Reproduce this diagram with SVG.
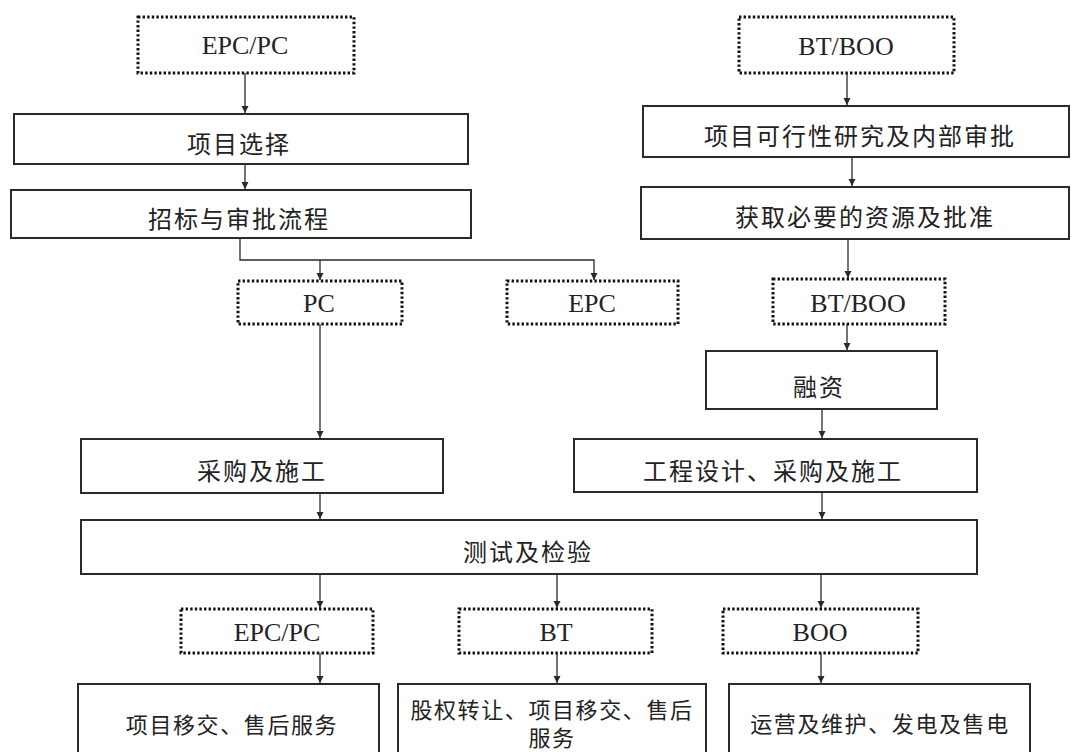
<svg xmlns="http://www.w3.org/2000/svg" width="1072" height="752" viewBox="0 0 1072 752">
<style>
  .box { fill: #ffffff; stroke: #2a2a2a; stroke-width: 2; }
  .dot { fill: #ffffff; stroke: #111111; stroke-width: 3; stroke-dasharray: 2.4 2.2; }
  .cn { font-family: "Noto Sans CJK SC", sans-serif; font-size: 24px; letter-spacing: 2px; fill: #222; text-anchor: middle; dominant-baseline: central; }
  .cs { font-family: "Noto Sans CJK SC", sans-serif; font-size: 22px; letter-spacing: 1.6px; fill: #222; text-anchor: middle; dominant-baseline: central; }
  .en { font-family: "Liberation Serif", serif; font-size: 26px; fill: #222; text-anchor: middle; }
  .ln { fill: none; stroke: #2a2a2a; stroke-width: 1.3; }
</style>
<defs>
  <marker id="arr" markerUnits="userSpaceOnUse" markerWidth="8" markerHeight="8" refX="7" refY="4" orient="auto">
    <path d="M0,0.5 L7,4 L0,7.5 z" fill="#2a2a2a"/>
  </marker>
</defs>
<rect width="1072" height="752" fill="#ffffff"/>

<g id="connectors">
  <path class="ln" d="M245,73 V113" marker-end="url(#arr)"/>
  <path class="ln" d="M245,164 V189" marker-end="url(#arr)"/>
  <path class="ln" d="M240,238 V260 H594 V280" marker-end="url(#arr)"/>
  <path class="ln" d="M320,260 V280" marker-end="url(#arr)"/>
  <path class="ln" d="M847,73 V105" marker-end="url(#arr)"/>
  <path class="ln" d="M852,157 V186" marker-end="url(#arr)"/>
  <path class="ln" d="M848,239 V278" marker-end="url(#arr)"/>
  <path class="ln" d="M847,324 V350" marker-end="url(#arr)"/>
  <path class="ln" d="M822,409 V438" marker-end="url(#arr)"/>
  <path class="ln" d="M320,324 V438" marker-end="url(#arr)"/>
  <path class="ln" d="M320,493 V519" marker-end="url(#arr)"/>
  <path class="ln" d="M822,492 V519" marker-end="url(#arr)"/>
  <path class="ln" d="M320,574 V608" marker-end="url(#arr)"/>
  <path class="ln" d="M557,574 V608" marker-end="url(#arr)"/>
  <path class="ln" d="M821,574 V608" marker-end="url(#arr)"/>
  <path class="ln" d="M320,653 V683" marker-end="url(#arr)"/>
  <path class="ln" d="M557,653 V683" marker-end="url(#arr)"/>
  <path class="ln" d="M821,653 V683" marker-end="url(#arr)"/>
</g>

<g id="epcpc-top">
  <rect class="dot" x="138" y="17" width="216" height="56"/>
  <text class="en" x="245" y="54">EPC/PC</text>
</g>
<g id="xuanze">
  <rect class="box" x="14" y="114" width="454" height="50"/>
  <text class="cn" x="239" y="142">项目选择</text>
</g>
<g id="zhaobiao">
  <rect class="box" x="11" y="190" width="460" height="48"/>
  <text class="cn" x="239" y="217">招标与审批流程</text>
</g>
<g id="btboo-top">
  <rect class="dot" x="739" y="17" width="215" height="56"/>
  <text class="en" x="846" y="55">BT/BOO</text>
</g>
<g id="kexingxing">
  <rect class="box" x="643" y="106" width="426" height="51"/>
  <text class="cn" x="860" y="134">项目可行性研究及内部审批</text>
</g>
<g id="huoqu">
  <rect class="box" x="641" y="187" width="428" height="52"/>
  <text class="cn" x="865" y="215">获取必要的资源及批准</text>
</g>
<g id="pc">
  <rect class="dot" x="238" y="281" width="164" height="43"/>
  <text class="en" x="319" y="312">PC</text>
</g>
<g id="epc">
  <rect class="dot" x="507" y="281" width="171" height="43"/>
  <text class="en" x="592" y="312">EPC</text>
</g>
<g id="btboo-mid">
  <rect class="dot" x="773" y="279" width="172" height="45"/>
  <text class="en" x="858" y="312">BT/BOO</text>
</g>
<g id="rongzi">
  <rect class="box" x="706" y="351" width="231" height="58"/>
  <text class="cn" x="819" y="385">融资</text>
</g>
<g id="caigou">
  <rect class="box" x="81" y="439" width="362" height="54"/>
  <text class="cn" x="262" y="469">采购及施工</text>
</g>
<g id="gongcheng">
  <rect class="box" x="574" y="439" width="403" height="53"/>
  <text class="cn" x="773" y="469">工程设计、采购及施工</text>
</g>
<g id="ceshi">
  <rect class="box" x="81" y="520" width="896" height="54"/>
  <text class="cn" x="528" y="550">测试及检验</text>
</g>
<g id="epcpc-bottom">
  <rect class="dot" x="181" y="609" width="192" height="44"/>
  <text class="en" x="277" y="641">EPC/PC</text>
</g>
<g id="bt">
  <rect class="dot" x="459" y="609" width="193" height="44"/>
  <text class="en" x="556" y="641">BT</text>
</g>
<g id="boo">
  <rect class="dot" x="723" y="609" width="195" height="44"/>
  <text class="en" x="820" y="641">BOO</text>
</g>
<g id="yijiao">
  <rect class="box" x="78" y="684" width="301" height="80"/>
  <text class="cs" x="232" y="723">项目移交、售后服务</text>
</g>
<g id="guquan">
  <rect class="box" x="398" y="684" width="308" height="80"/>
  <text class="cs"><tspan x="552" y="708">股权转让、项目移交、售后</tspan><tspan x="552" y="736">服务</tspan></text>
</g>
<g id="yunying">
  <rect class="box" x="729" y="684" width="301" height="80"/>
  <text class="cs" x="880" y="722">运营及维护、发电及售电</text>
</g>
</svg>
